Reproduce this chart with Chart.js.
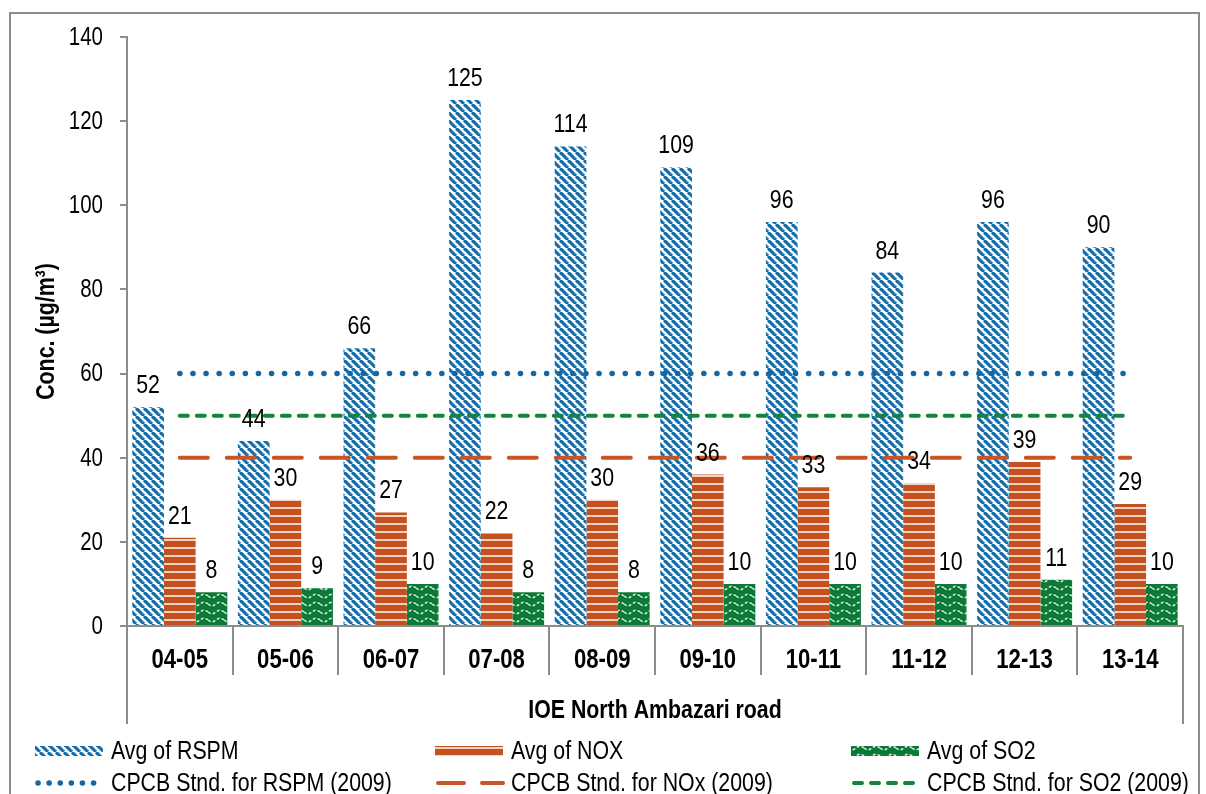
<!DOCTYPE html>
<html>
<head>
<meta charset="utf-8">
<script src="https://cdn.jsdelivr.net/npm/chart.js@4.4.0/dist/chart.umd.min.js"></script>
<style>
  html, body { margin: 0; padding: 0; background: #fff; }
  canvas { display: block; }
</style>
</head>
<body>
<canvas id="airChart" width="1206" height="794"></canvas>
<script>
// data
const years = ['04-05', '05-06', '06-07', '07-08', '08-09', '09-10', '10-11', '11-12', '12-13', '13-14'];
const avgRspm = [52, 44, 66, 125, 114, 109, 96, 84, 96, 90];
const avgNox = [21, 30, 27, 22, 30, 36, 33, 34, 39, 29];
const avgSo2 = [8, 9, 10, 8, 8, 10, 10, 10, 11, 10];
const stdRspm = [60, 60, 60, 60, 60, 60, 60, 60, 60, 60];
const stdNox = [40, 40, 40, 40, 40, 40, 40, 40, 40, 40];
const stdSo2 = [50, 50, 50, 50, 50, 50, 50, 50, 50, 50];
const yTicks = [0, 20, 40, 60, 80, 100, 120, 140];
const groupName = 'IOE North Ambazari road';
const yTitle = 'Conc. (µg/m³)';

const FONT = '"Liberation Sans", Arial, sans-serif';
const NARROW = 0.82; // squeeze text sideways, the original uses a narrow face
const AXIS_GREY = '#8c8c8c';

function narrowText(ctx, text, x, y, align, font) {
    ctx.save();
    ctx.font = font;
    ctx.textAlign = align;
    ctx.translate(x, y);
    ctx.scale(NARROW, 1);
    ctx.fillText(text, 0, 0);
    ctx.restore();
}

// fill patterns for the bars
function stripePattern() {
    const c = document.createElement('canvas');
    c.width = 8; c.height = 8;
    const x = c.getContext('2d');
    x.fillStyle = '#fff';
    x.fillRect(0, 0, 8, 8);
    x.strokeStyle = '#1b6da8';
    x.lineWidth = 3.2;
    for (let k = -8; k <= 8; k += 8) {
        x.beginPath(); x.moveTo(k, 0); x.lineTo(k + 8, 8); x.stroke();
    }
    return x.createPattern(c, 'repeat');
}

function linePattern() {
    const c = document.createElement('canvas');
    c.width = 4; c.height = 8;
    const x = c.getContext('2d');
    x.fillStyle = '#c4501f';
    x.fillRect(0, 0, 4, 8);
    x.fillStyle = '#f3d2c2';
    x.fillRect(0, 3, 4, 2);
    return x.createPattern(c, 'repeat');
}

function wavePattern() {
    const c = document.createElement('canvas');
    c.width = 16; c.height = 8;
    const x = c.getContext('2d');
    x.fillStyle = '#0b7a36';
    x.fillRect(0, 0, 16, 8);
    x.strokeStyle = '#e4f2e8';
    x.lineWidth = 1.4;
    x.setLineDash([3, 2]);
    x.beginPath();
    for (let i = 0; i <= 16; i++) {
        const yy = 4 + 1.8 * Math.sin(i / 16 * Math.PI * 2);
        if (i === 0) x.moveTo(i, yy); else x.lineTo(i, yy);
    }
    x.stroke();
    return x.createPattern(c, 'repeat');
}

const rspmFill = stripePattern();
const noxFill = linePattern();
const so2Fill = wavePattern();

// white page, outer frame, category box lines, axis texts
const frame = {
    id: 'frame',
    beforeDraw(chart) {
        const ctx = chart.ctx;
        ctx.save();
        ctx.fillStyle = '#fff';
        ctx.fillRect(0, 0, chart.width, chart.height);
        ctx.strokeStyle = AXIS_GREY;
        ctx.lineWidth = 2;
        ctx.strokeRect(10, 13, 1189, 800);
        ctx.restore();
    },
    afterDraw(chart) {
        const ctx = chart.ctx;
        const a = chart.chartArea;
        const xs = chart.scales.x;
        const ys = chart.scales.y;
        ctx.save();
        ctx.strokeStyle = AXIS_GREY;
        ctx.lineWidth = 2;
        ctx.beginPath();
        ctx.moveTo(a.left, a.bottom); ctx.lineTo(a.left, 724);
        ctx.moveTo(a.right, a.bottom); ctx.lineTo(a.right, 724);
        ctx.stroke();
        ctx.fillStyle = '#000';
        ctx.textBaseline = 'middle';
        // y tick labels
        ys.ticks.forEach((t, i) => {
            narrowText(ctx, String(t.value), ys.right - 24, ys.getPixelForTick(i) + 1, 'right', '25px ' + FONT);
        });
        // category labels
        xs.ticks.forEach((t, i) => {
            narrowText(ctx, years[i], xs.getPixelForTick(i), 661, 'center', 'bold 27px ' + FONT);
        });
        narrowText(ctx, groupName, (a.left + a.right) / 2, 711, 'center', 'bold 26px ' + FONT);
        // y title
        ctx.save();
        ctx.translate(47, (a.top + a.bottom) / 2);
        ctx.rotate(-Math.PI / 2);
        narrowText(ctx, yTitle, 0, 0, 'center', 'bold 26px ' + FONT);
        ctx.restore();
        ctx.restore();
    }
};

// numbers above the bars
const valueLabels = {
    id: 'valueLabels',
    afterDatasetsDraw(chart) {
        const ctx = chart.ctx;
        ctx.save();
        ctx.fillStyle = '#000';
        ctx.textBaseline = 'alphabetic';
        chart.data.datasets.forEach((ds, i) => {
            if (ds.type === 'line') return;
            chart.getDatasetMeta(i).data.forEach((bar, j) => {
                narrowText(ctx, String(Math.round(ds.data[j])), bar.x, bar.y - 14, 'center', '26px ' + FONT);
            });
        });
        ctx.restore();
    }
};

// legend in three columns, two rows
const gridLegend = {
    id: 'gridLegend',
    afterDraw(chart) {
        const ctx = chart.ctx;
        const cols = [35, 435, 851];
        const rows = [751, 783];
        ctx.save();
        ctx.textBaseline = 'middle';
        chart.data.datasets.forEach((ds, n) => {
            const x = cols[n % 3];
            const y = rows[Math.floor(n / 3)];
            if (ds.type === 'line') {
                ctx.strokeStyle = ds.borderColor;
                ctx.lineWidth = ds.borderWidth;
                ctx.lineCap = ds.borderCapStyle;
                ctx.setLineDash(ds.legendDash || ds.borderDash);
                ctx.beginPath();
                ctx.moveTo(x + 3, y); ctx.lineTo(x + 68, y);
                ctx.stroke();
                ctx.setLineDash([]);
            } else {
                ctx.fillStyle = ds.backgroundColor;
                ctx.fillRect(x, y - 5, 68, 10);
            }
            ctx.fillStyle = '#000';
            narrowText(ctx, ds.label, x + 76, y + 1, 'left', '26px ' + FONT);
        });
        ctx.restore();
    }
};

const ctx = document.getElementById('airChart').getContext('2d');
const airChart = new Chart(ctx, {
    type: 'bar',
    data: {
        labels: years,
        datasets: [
            { label: 'Avg of RSPM', data: avgRspm, backgroundColor: rspmFill, order: 2 },
            { label: 'Avg of NOX', data: avgNox, backgroundColor: noxFill, order: 2 },
            { label: 'Avg of SO2', data: avgSo2, backgroundColor: so2Fill, order: 2 },
            {
                type: 'line', label: 'CPCB Stnd. for RSPM (2009)', data: stdRspm,
                borderColor: '#1467a3', borderWidth: 5.5, borderDash: [0.1, 13], legendDash: [0.1, 11],
                borderCapStyle: 'round', pointRadius: 0, order: 1
            },
            {
                type: 'line', label: 'CPCB Stnd. for NOx (2009)', data: stdNox,
                borderColor: '#c95424', borderWidth: 4, borderDash: [28, 19], legendDash: [26, 18],
                borderCapStyle: 'round', pointRadius: 0, order: 1
            },
            {
                type: 'line', label: 'CPCB Stnd. for SO2 (2009)', data: stdSo2,
                borderColor: '#12843c', borderWidth: 4, borderDash: [8, 9],
                borderCapStyle: 'round', pointRadius: 0, order: 1
            }
        ]
    },
    options: {
        responsive: false,
        animation: false,
        events: [],
        datasets: {
            bar: { categoryPercentage: 0.9, barPercentage: 1.0, borderWidth: 0 }
        },
        layout: { padding: { left: 0, top: 37, right: 23, bottom: 0 } },
        plugins: {
            legend: { display: false },
            tooltip: { enabled: false }
        },
        scales: {
            x: {
                afterFit: (scale) => { scale.height = 168; },
                grid: {
                    display: true, drawOnChartArea: false, offset: true,
                    tickLength: 49, color: AXIS_GREY, lineWidth: 2
                },
                border: { color: AXIS_GREY, width: 2 },
                ticks: {
                    color: 'rgba(0,0,0,0)',
                    padding: -31,
                    font: { family: FONT, size: 26, weight: 'bold' }
                }
            },
            y: {
                min: 0,
                max: 140,
                afterFit: (scale) => { scale.width = 127; },
                afterBuildTicks: (scale) => { scale.ticks = yTicks.map(v => ({ value: v })); },
                grid: { drawOnChartArea: false, tickLength: 7, color: AXIS_GREY, lineWidth: 2 },
                border: { color: AXIS_GREY, width: 2 },
                ticks: {
                    color: 'rgba(0,0,0,0)',
                    padding: 17,
                    font: { family: FONT, size: 25 }
                }
            }
        }
    },
    plugins: [frame, valueLabels, gridLegend]
});
</script>
</body>
</html>
